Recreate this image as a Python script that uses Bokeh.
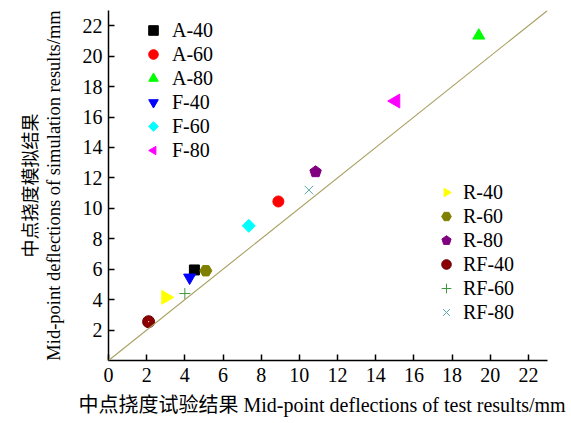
import numpy as np
from bokeh.plotting import figure
from bokeh.models import (Range1d, FixedTicker, Legend, LegendItem, Title,
                          Slope)
from bokeh.embed import file_html
from bokeh.resources import INLINE

# Mid-point deflections: test results (x) vs. simulation results (y), mm
names = ["A-40", "A-60", "A-80", "F-40", "F-60", "F-80",
         "R-40", "R-60", "R-80", "RF-40", "RF-60", "RF-80"]
test_mm = [4.5, 8.9, 19.4, 4.25, 7.35, 15.05, 3.0, 5.1, 10.85, 2.1, 4.0, 10.5]
sim_mm = [5.95, 10.45, 21.35, 5.45, 8.85, 17.05, 4.15, 5.9, 12.4, 2.55, 4.4, 11.2]

x_ticks = [0, 2, 4, 6, 8, 10, 12, 14, 16, 18, 20, 22]
y_ticks = [2, 4, 6, 8, 10, 12, 14, 16, 18, 20, 22]
axis_max = 23

SERIF = "Liberation Serif, Noto Sans CJK SC"
FS = "20px"

# marker style per specimen: (marker, colour, size, angle)
styles = {
    "A-40": ("square", "#000000", 10, 0),
    "A-60": ("circle", "#ff0000", 11, 0),
    "A-80": ("triangle", "#00ff00", 12, 0),
    "F-40": ("inverted_triangle", "#0000ff", 12, 0),
    "F-60": ("quad", "#00ffff", 6.5, 0),
    "F-80": ("tri", "#ff00ff", 8, np.pi / 2),
    "R-40": ("tri", "#ffff00", 8, -np.pi / 2),
    "R-60": ("hex", "#808000", 12, 0),
    "R-80": ("pentagon", "#800080", 6, 0),
    "RF-40": ("sphere", "#8b0000", 12, 0),
    "RF-60": ("cross", "#3c9a3c", 11, 0),
    "RF-80": ("x", "#5aa8a8", 12, 0),
}
polygon_sides = {"tri": 3, "quad": 4, "pentagon": 5}

p = figure(width=571, height=423, output_backend="svg", toolbar_location=None,
           x_range=Range1d(0, axis_max), y_range=Range1d(0, axis_max),
           min_border_left=108, min_border_right=24,
           min_border_top=10, min_border_bottom=63)
p.outline_line_color = None
p.grid.visible = False
p.background_fill_color = "white"
p.border_fill_color = "white"

p.xaxis[0].ticker = FixedTicker(ticks=x_ticks)
p.yaxis[0].ticker = FixedTicker(ticks=y_ticks)
for ax in (p.xaxis[0], p.yaxis[0]):
    ax.major_tick_in = 6
    ax.major_tick_out = 0
    ax.minor_tick_line_color = None
    ax.axis_line_width = 1.5
    ax.major_tick_line_width = 1.5
    ax.axis_line_color = "black"
    ax.major_tick_line_color = "black"
    ax.major_label_text_font = SERIF
    ax.major_label_text_font_size = FS
    ax.major_label_text_color = "black"
    ax.axis_label_text_font = SERIF
    ax.axis_label_text_font_size = "18.5px"
    ax.axis_label_text_font_style = "normal"
    ax.axis_label_text_color = "black"

p.xaxis.major_label_standoff = 7
p.yaxis.major_label_standoff = 6
p.yaxis.axis_label = "Mid-point deflections of simulation results/mm"
p.yaxis.axis_label_standoff = 16

p.add_layout(Title(text="中点挠度模拟结果", align="center", text_font=SERIF,
                   text_font_size="18px", text_font_style="normal",
                   text_color="black", standoff=0), "left")

p.add_layout(Title(text="中点挠度试验结果 Mid-point deflections of test results/mm",
                   align="left", offset=-30, text_font=SERIF,
                   text_font_size=FS, text_font_style="normal",
                   text_color="black", standoff=14), "below")

# y = x reference line
p.add_layout(Slope(gradient=1, y_intercept=0, line_color="#a8a060",
                   line_width=1.1))

items = {}
for name, tx, sy in zip(names, test_mm, sim_mm):
    marker, color, size, angle = styles[name]
    if marker in polygon_sides:
        rs = [p.ngon(x=[tx], y=[sy], radius=size, radius_units="screen",
                     n=polygon_sides[marker], angle=angle,
                     fill_color=color, line_color=color)]
    elif marker == "sphere":
        rs = [p.scatter(x=[tx], y=[sy], marker="circle", size=size,
                        fill_color=color, line_color="#6a0000")]
        # small specular highlight on the ball
        p.scatter(x=[tx], y=[sy], marker="dot", size=5, line_color="#ffdede")
    elif marker in ("cross", "x"):
        rs = [p.scatter(x=[tx], y=[sy], marker=marker, size=size,
                        line_color=color, line_width=1)]
    else:
        rs = [p.scatter(x=[tx], y=[sy], marker=marker, size=size,
                        angle=angle, fill_color=color, line_color=color)]
    items[name] = rs


def make_legend(keys, loc, standoff):
    leg = Legend(items=[LegendItem(label=k, renderers=items[k]) for k in keys],
                 location=loc, orientation="vertical",
                 background_fill_alpha=0, border_line_color=None,
                 label_text_font=SERIF, label_text_font_size=FS,
                 label_text_color="black", glyph_width=24, glyph_height=24,
                 label_height=24, spacing=0, padding=0, margin=0,
                 label_standoff=standoff)
    p.add_layout(leg)


make_legend(names[:6], (33, 198), 7)
make_legend(names[6:], (326, 36), 5)

open("out.html", "w").write(file_html(p, INLINE))
